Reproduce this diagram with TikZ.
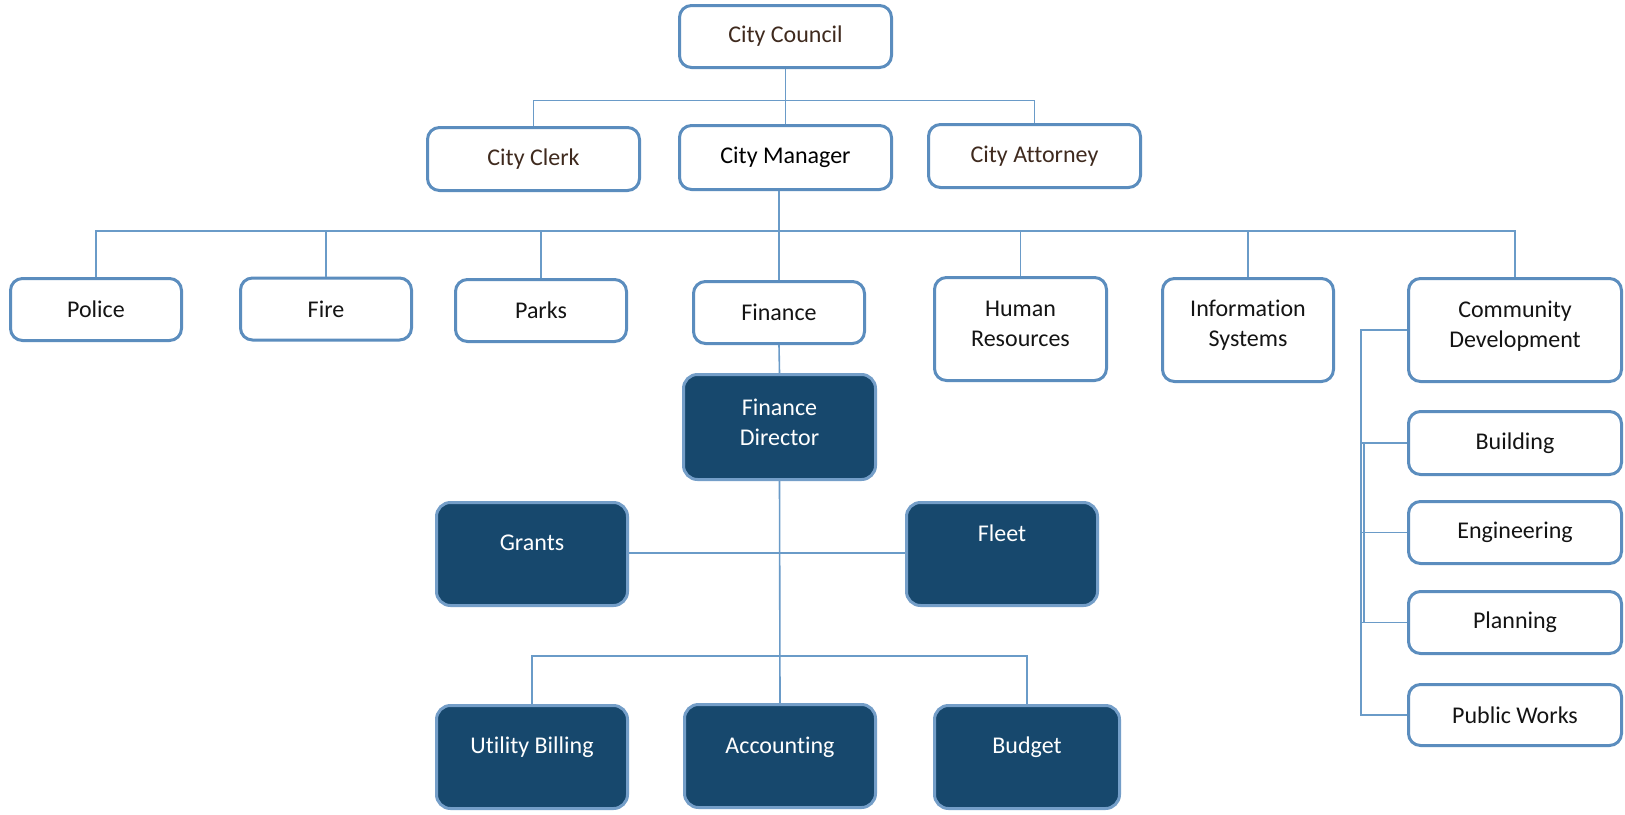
\documentclass[tikz,border=0pt]{standalone}
\usepackage{fontspec}
\setmainfont{Carlito}[Ligatures=NoCommon]
\definecolor{bord}{HTML}{5B8DBE}
\definecolor{connc}{HTML}{6A9BC8}
\definecolor{navy}{HTML}{17486D}
\definecolor{brownt}{HTML}{3F2A1E}
\definecolor{txt}{HTML}{141414}
\newcommand\mkbox[9]{%
  \node[#1, minimum width=#6pt+2pt, minimum height=#7pt+2pt, inner sep=0pt] (#3) at (#4,#5) {};
  \node[#2] (#3t) at ([yshift=#8pt]#3.center) {#9};}
\begin{document}
\begin{tikzpicture}[x=1pt,y=-1pt,
  lightbox/.style={draw=bord, line width=3pt, rounded corners=12pt, fill=white},
  darkbox/.style={draw=bord!85, line width=3pt, rounded corners=14pt, fill=navy},
  lbl/.style={font=\fontsize{24}{30}\selectfont, align=center, text=txt, inner sep=0pt},
  blbl/.style={lbl, text=brownt},
  klbl/.style={lbl, text=black},
  wlbl/.style={lbl, text=white},
  link/.style={draw=connc, line width=1.6pt}]
\fill[white] (0,0) rectangle (1625,814);
\useasboundingbox (0,0) rectangle (1625,814);
% top
\mkbox{lightbox}{blbl}{council}{785.5}{36.5}{210}{60}{0}{City Council}
\mkbox{lightbox}{blbl}{clerk}{533.5}{159}{210}{61}{0}{City Clerk}
\mkbox{lightbox}{klbl}{manager}{785.5}{157.5}{210}{62}{0}{City Manager}
\mkbox{lightbox}{blbl}{attorney}{1034.5}{156}{210}{61}{0}{City Attorney}
% departments
\mkbox{lightbox}{lbl}{police}{96}{309.5}{169}{60}{0}{Police}
\mkbox{lightbox}{lbl}{fire}{326}{309}{169}{60}{0}{Fire}
\mkbox{lightbox}{lbl}{parks}{541}{310.5}{169}{60}{0}{Parks}
\mkbox{lightbox}{lbl}{finance}{779}{312.5}{169}{60}{0}{Finance}
\mkbox{lightbox}{lbl}{hr}{1020.5}{329}{170}{101}{5}{Human\\Resources}
\mkbox{lightbox}{lbl}{is}{1248}{330}{169}{101}{4.5}{Information\\Systems}
\mkbox{lightbox}{lbl}{cd}{1515}{330}{211}{101}{4}{Community\\Development}
% community development units
\mkbox{lightbox}{lbl}{building}{1515}{443}{211}{61}{0}{Building}
\mkbox{lightbox}{lbl}{engineering}{1515}{532.5}{211}{60}{0}{Engineering}
\mkbox{lightbox}{lbl}{planning}{1515}{622.5}{211}{60}{0}{Planning}
\mkbox{lightbox}{lbl}{pw}{1515}{715}{211}{59}{0}{Public Works}
% finance units
\mkbox{darkbox}{wlbl}{fd}{779.5}{427}{190}{103}{5}{Finance\\Director}
\mkbox{darkbox}{wlbl}{grants}{532}{554}{189}{101}{11}{Grants}
\mkbox{darkbox}{wlbl}{fleet}{1002}{554}{189}{101}{21}{Fleet}
\mkbox{darkbox}{wlbl}{ub}{532}{757}{189}{101}{10}{Utility Billing}
\mkbox{darkbox}{wlbl}{acc}{780}{756}{189}{101}{9}{Accounting}
\mkbox{darkbox}{wlbl}{budget}{1027}{757}{183}{101}{10}{Budget}
% bus coordinates
\coordinate (b1) at (0,100.5);
\coordinate (b2) at (0,231);
\coordinate (b3) at (0,656);
\coordinate (gf) at (0,553);
\coordinate (rv) at (1361,0);
\coordinate (rv2) at (1364,0);
% connectors
\draw[link] (council.south) -- (manager.north);
\draw[link] (clerk.north) -- (clerk.north |- b1) -- (attorney.north |- b1) -- (attorney.north);
\draw[link] (finance.north |- manager.south) -- (finance.north);
\draw[link] (police.north) -- (police.north |- b2) -- (cd.north |- b2) -- (cd.north);
\draw[link] (fire.north) -- (fire.north |- b2);
\draw[link] (parks.north) -- (parks.north |- b2);
\draw[link] (hr.north) -- (hr.north |- b2);
\draw[link] (is.north) -- (is.north |- b2);
\draw[link] (finance.south) -- (fd.north);
\draw[link] (fd.south) -- (acc.north);
\draw[link] (grants.east |- gf) -- (fleet.west |- gf);
\draw[link] (ub.north) -- (ub.north |- b3) -- (budget.north |- b3) -- (budget.north);
\draw[link] (cd.west) -- (rv |- cd.west) -- (rv |- pw.west) -- (pw.west);
\draw[link] (building.west) -- (rv |- building.west);
\draw[link] (engineering.west) -- (rv |- engineering.west);
\draw[link] (planning.west) -- (rv |- planning.west);
\draw[link] (rv2 |- building.west) -- (rv2 |- planning.west);
\end{tikzpicture}
\end{document}
